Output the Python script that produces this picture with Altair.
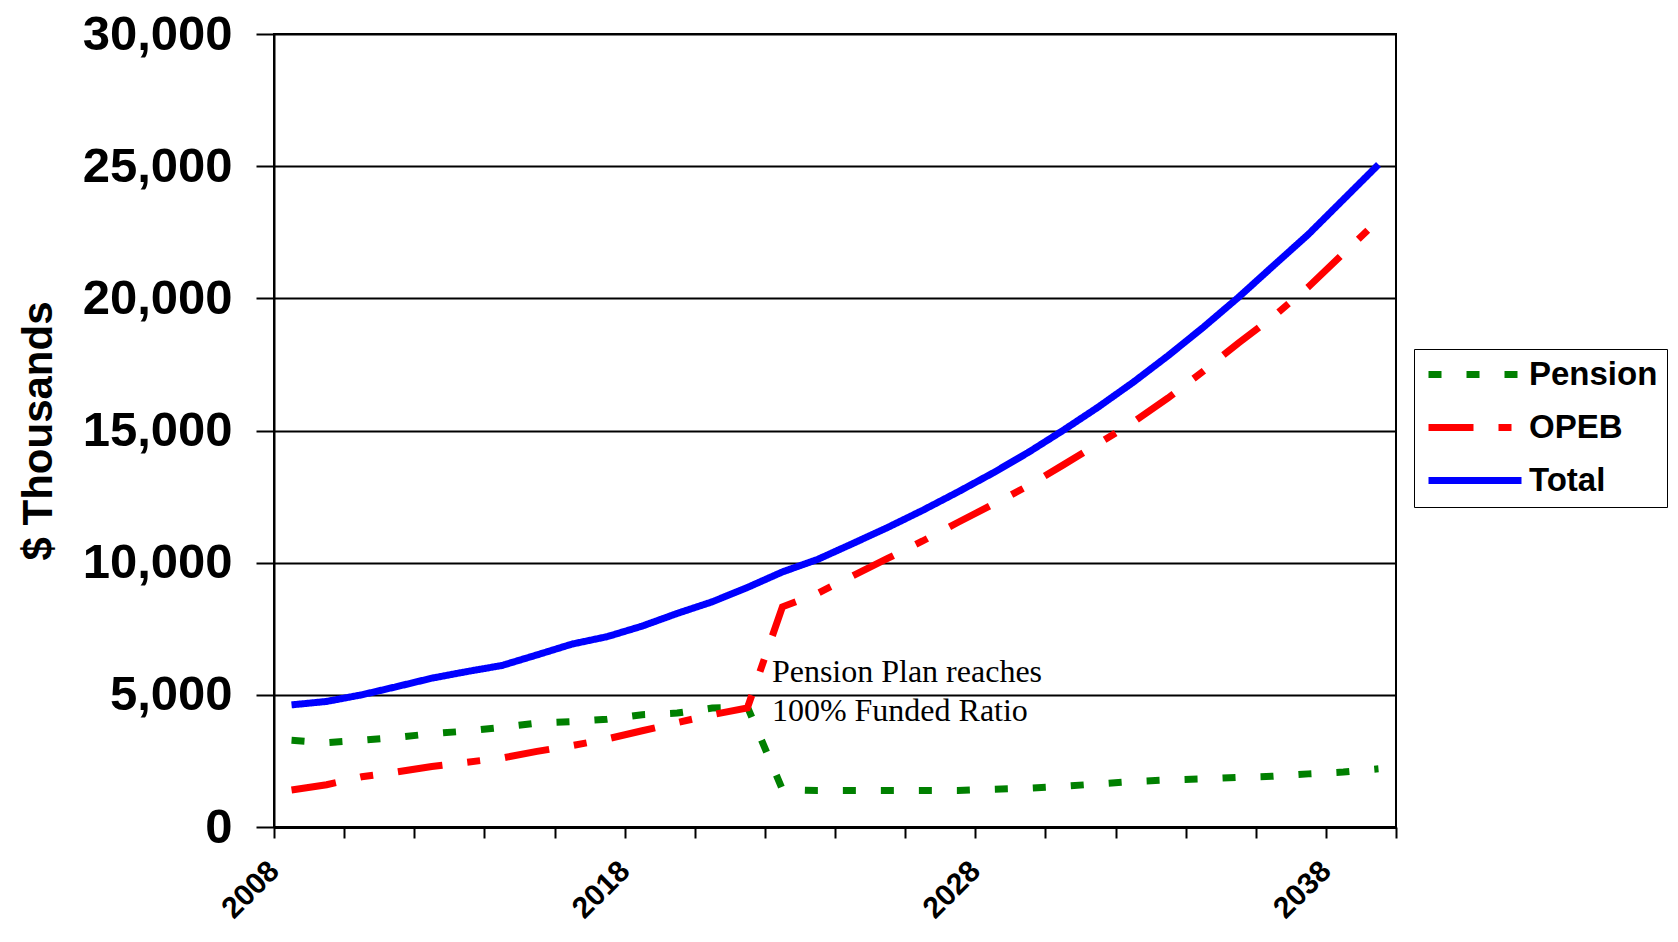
import altair as alt
import pandas as pd

years = list(range(2008, 2040))
series_order = ["Pension", "OPEB", "Total"]
series_colors = ["#008000", "#FF0000", "#0000FF"]
series_dashes = [[13, 25], [45, 25, 13, 25], [1, 0]]

pension = [3280, 3190, 3280, 3390, 3530, 3630, 3770, 3930, 3990, 4080, 4250, 4310,
           4500, 4550, 1420, 1380, 1380, 1380, 1380, 1380, 1430, 1470, 1540, 1630,
           1720, 1780, 1820, 1880, 1920, 2010, 2080, 2200]
opeb = [1400, 1600, 1900, 2080, 2290, 2450, 2610, 2860, 3080, 3330, 3640, 3950,
        4250, 4500, 8330, 8840, 9500, 10160, 10820, 11520, 12200, 12900, 13690, 14500,
        15310, 16230, 17240, 18300, 19310, 20430, 21700, 22960]
total = [4620, 4750, 5000, 5310, 5630, 5880, 6110, 6510, 6920, 7200, 7600, 8080,
         8520, 9060, 9650, 10120, 10720, 11330, 11980, 12670, 13390, 14160, 15000, 15880,
         16820, 17830, 18900, 20030, 21230, 22420, 23740, 25060]

y_ticks = [0, 5000, 10000, 15000, 20000, 25000, 30000]
x_ticks = list(range(2008, 2041))
x_labels = [2008, 2018, 2028, 2038]

ann_text = "Pension Plan reaches\n100% Funded Ratio"
ann_x = [2022.2]
ann_y = [5500]

rows = []
for name, vals in zip(series_order, [pension, opeb, total]):
    for yr, v in zip(years, vals):
        rows.append({"series": name, "year": yr, "value": v})
df = pd.DataFrame(rows)

legend_def = dict(
    title=None, orient="none", legendX=1140, legendY=315,
    symbolType="M0,0H18.6", symbolSize=100, symbolStrokeWidth=7, symbolOffset=-11,
    labelFont="Liberation Sans", labelFontWeight="bold", labelFontSize=33,
    labelColor="black", labelOffset=84, rowPadding=19, padding=9,
    strokeColor="black", fillColor="white",
)

label_expr = "indexof([" + ",".join(str(v) for v in x_labels) + "], datum.value) >= 0 ? '' + datum.value : ''"

lines = alt.Chart(df).transform_calculate(
    pos="datum.year + 0.5"
).mark_line(strokeWidth=7, strokeCap="butt").encode(
    x=alt.X("pos:Q", title=None,
            scale=alt.Scale(domain=[2008, 2040], nice=False, zero=False),
            axis=alt.Axis(values=x_ticks, labelExpr=label_expr, labelAngle=315,
                          labelAlign="right", labelBaseline="middle",
                          labelFontSize=30, labelPadding=28, labelOverlap=False,
                          labelFlush=False, grid=False, tickSize=11, tickWidth=2,
                          domainWidth=3)),
    y=alt.Y("value:Q", title="$ Thousands",
            scale=alt.Scale(domain=[0, 30000], nice=False),
            axis=alt.Axis(values=y_ticks, format=",d", labelFontSize=49,
                          labelPadding=24, labelFlush=False, grid=True,
                          gridColor="black", gridWidth=2, tickSize=18, tickWidth=2,
                          domainWidth=2, titleFontSize=42, titlePadding=22)),
    color=alt.Color("series:N", scale=alt.Scale(domain=series_order, range=series_colors),
                    legend=alt.Legend(**legend_def)),
    strokeDash=alt.StrokeDash("series:N", scale=alt.Scale(domain=series_order, range=series_dashes),
                              legend=alt.Legend(**legend_def)),
)

ann = alt.Chart(pd.DataFrame({"x": ann_x, "y": ann_y, "t": [ann_text]})).mark_text(
    align="left", baseline="alphabetic", font="Liberation Serif", fontSize=32,
    lineBreak="\n", lineHeight=39, color="black"
).encode(x="x:Q", y="y:Q", text="t:N")

chart = alt.layer(lines, ann).properties(
    width=1122, height=793,
    autosize=alt.AutoSizeParams(type="none"),
    padding={"left": 266, "top": 26, "right": 272, "bottom": 99},
    background="white",
).configure_view(
    stroke="black", strokeWidth=2
).configure_axis(
    domainColor="black", tickColor="black", labelColor="black",
    labelFont="Liberation Sans", labelFontWeight="bold",
    titleFont="Liberation Sans", titleFontWeight="bold", titleColor="black",
)

chart.save("out.html", embed_options={"renderer": "svg", "actions": False})
